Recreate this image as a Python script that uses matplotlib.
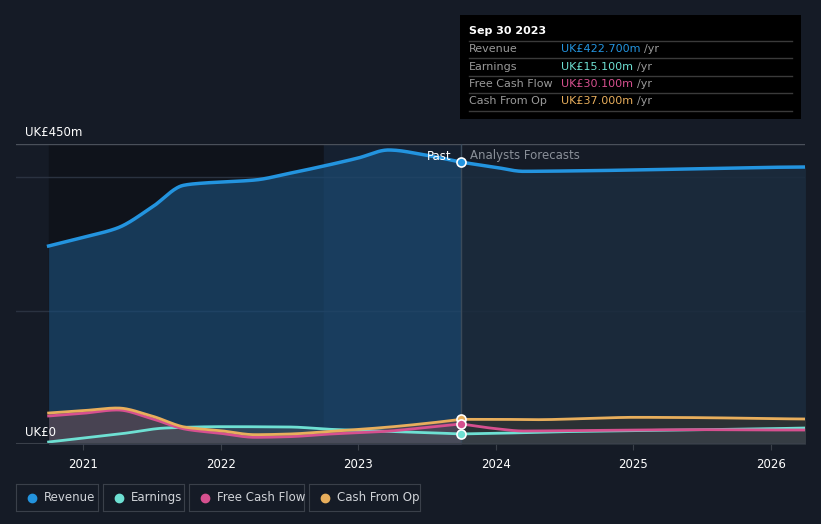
import numpy as np
import matplotlib.pyplot as plt

# data (UK£ m)
rev_x = [2020.75, 2021.0, 2021.25, 2021.5, 2021.73, 2021.85, 2022.25, 2022.5, 2022.75, 2023.0, 2023.22, 2023.5, 2023.75]
rev_y = [297, 310, 324, 355, 388, 391, 396, 406, 417, 429, 441, 433, 422.7]
rev_fx = [2023.75, 2024.0, 2024.2, 2024.5, 2025.0, 2025.5, 2026.0, 2026.25]
rev_fy = [422.7, 415, 409, 409.5, 411, 413, 415, 415.5]

earn_x = [2020.75, 2021.0, 2021.3, 2021.6, 2022.0, 2022.5, 2022.8, 2023.2, 2023.5, 2023.75]
earn_y = [3, 9, 16, 24, 26, 25.5, 22, 19, 17, 15.1]
earn_fx = [2023.75, 2024.0, 2024.2, 2024.5, 2025.0, 2025.5, 2026.0, 2026.25]
earn_fy = [15.1, 16, 17, 18.5, 20, 21.5, 23, 24]

fcf_x = [2020.75, 2021.0, 2021.25, 2021.5, 2021.75, 2022.0, 2022.25, 2022.5, 2022.8, 2023.2, 2023.5, 2023.75]
fcf_y = [42, 46, 51, 38, 22, 16, 10, 11, 15, 19, 25, 30.1]
fcf_fx = [2023.75, 2024.0, 2024.2, 2024.5, 2025.0, 2025.5, 2026.0, 2026.25]
fcf_fy = [30.1, 23, 19.5, 20, 21, 21.5, 21, 21]

cfo_x = [2020.75, 2021.0, 2021.25, 2021.5, 2021.75, 2022.0, 2022.25, 2022.5, 2022.8, 2023.2, 2023.5, 2023.75]
cfo_y = [46.5, 50, 54, 42, 25, 20, 14, 15, 19, 25, 31, 37]
cfo_fx = [2023.75, 2024.0, 2024.3, 2024.7, 2025.0, 2025.5, 2026.0, 2026.25]
cfo_fy = [37, 37, 36.5, 38.5, 40, 39.5, 38, 37.5]

years = [2021, 2022, 2023, 2024, 2025, 2026]

bg = '#151b26'
c_rev = '#2394df'
c_earn = '#6ee0d3'
c_fcf = '#d6508f'
c_cfo = '#e8ae5c'

def smooth(xs, ys):
    # monotone cubic hermite so the curves don't overshoot
    xs = np.asarray(xs, float); ys = np.asarray(ys, float)
    d = np.diff(ys) / np.diff(xs)
    m = np.zeros_like(ys)
    m[0] = d[0]; m[-1] = d[-1]
    for i in range(1, len(ys) - 1):
        if d[i-1] * d[i] <= 0:
            m[i] = 0
        else:
            m[i] = 2 / (1 / d[i-1] + 1 / d[i])
    xo, yo = [], []
    for i in range(len(xs) - 1):
        h = xs[i+1] - xs[i]
        t = np.linspace(0, 1, 30, endpoint=False)
        h00 = 2*t**3 - 3*t**2 + 1; h10 = t**3 - 2*t**2 + t
        h01 = -2*t**3 + 3*t**2; h11 = t**3 - t**2
        xo.extend(xs[i] + t*h)
        yo.extend(h00*ys[i] + h10*h*m[i] + h01*ys[i+1] + h11*h*m[i+1])
    xo.append(xs[-1]); yo.append(ys[-1])
    return np.array(xo), np.array(yo)

fig = plt.figure(figsize=(8.21, 5.24), dpi=100, facecolor=bg)
ax = fig.add_axes([16/821, 80/524, 789/821, 300/524])
ax.set_facecolor(bg)
x0 = 2021 - 67/137.6
x1 = 2021 + 722/137.6
ax.set_xlim(x0, x1)
ax.set_ylim(0, 450)

# background shades
ax.axvspan(2020.75, 2022.75, color='#0f131b', zorder=0)
ax.axvspan(2022.75, 2023.75, color='#152030', zorder=0)

for v in [200, 400]:
    ax.axhline(v, color='#2a3240', lw=1, zorder=1)
ax.axhline(450, color='#4a505a', lw=1, zorder=1)
ax.axhline(0, color='#3a404a', lw=1.5, zorder=6)

rx, ry = smooth(rev_x, rev_y)
fx, fy = smooth(rev_fx, rev_fy)
ax.fill_between(rx, ry, color='#1b4a72', alpha=0.7, zorder=2, lw=0)
ax.fill_between(fx, fy, color='#1b2c3e', alpha=0.85, zorder=2, lw=0)

cx, cy = smooth(cfo_x, cfo_y)
px, py = smooth(fcf_x, fcf_y)
ex, ey = smooth(earn_x, earn_y)
cfx, cfy = smooth(cfo_fx, cfo_fy)
pfx, pfy = smooth(fcf_fx, fcf_fy)
efx, efy = smooth(earn_fx, earn_fy)

ax.fill_between(cx, cy, color='#6a4a50', alpha=0.6, zorder=3, lw=0)
ax.fill_between(ex, ey, color='#4a5560', alpha=0.5, zorder=3, lw=0)
ax.fill_between(cfx, cfy, color='#2e3234', alpha=0.9, zorder=3, lw=0)
ax.fill_between(efx, efy, color='#3e4650', alpha=0.6, zorder=3, lw=0)

ax.plot(rx, ry, color=c_rev, lw=2.5, zorder=5)
ax.plot(fx, fy, color=c_rev, lw=2.5, zorder=5)
ax.plot(ex, ey, color=c_earn, lw=2, zorder=5)
ax.plot(efx, efy, color=c_earn, lw=2, zorder=5)
ax.plot(px, py, color=c_fcf, lw=2, zorder=5)
ax.plot(pfx, pfy, color=c_fcf, lw=2, zorder=5)
ax.plot(cx, cy, color=c_cfo, lw=2, zorder=5)
ax.plot(cfx, cfy, color=c_cfo, lw=2, zorder=5)

ax.axvline(2023.75, color='#3a4a5a', lw=1, zorder=4)
for val, col in [(rev_y[-1], c_rev), (cfo_y[-1], c_cfo), (fcf_y[-1], c_fcf), (earn_y[-1], c_earn)]:
    ax.plot(2023.75, val, 'o', ms=6.5, color=col, mec='white', mew=1.2, zorder=7)

ax.text(2023.68, 432, 'Past', color='white', fontsize=8.5, ha='right', va='center', zorder=8)
ax.text(2023.81, 432, 'Analysts Forecasts', color='#8a9099', fontsize=8.5, ha='left', va='center', zorder=8)

ax.set_yticks([])
ax.set_xticks(years)
ax.set_xticklabels([str(y) for y in years], color='white', fontsize=8.5)
ax.tick_params(axis='x', length=4, color='#3a404a', pad=6)
for s in ax.spines.values():
    s.set_visible(False)

fig.text(25/821, 1 - 132/524, 'UK£450m', color='white', fontsize=8.5, va='center')
fig.text(25/821, 1 - 432/524, 'UK£0', color='white', fontsize=8.5, va='center')

# tooltip
tip = fig.add_axes([460/821, 1 - 119/524, 341/821, 104/524])
tip.set_facecolor('black')
tip.set_xlim(0, 341); tip.set_ylim(104, 0)
tip.set_xticks([]); tip.set_yticks([])
for s in tip.spines.values():
    s.set_visible(False)
tip.text(9, 16, 'Sep 30 2023', color='white', fontsize=8, va='center', fontweight='bold')
rows = [('Revenue', 'UK£422.700m', c_rev), ('Earnings', 'UK£15.100m', c_earn),
        ('Free Cash Flow', 'UK£30.100m', c_fcf), ('Cash From Op', 'UK£37.000m', c_cfo)]
renderer = fig.canvas.get_renderer()
for i, (lab, val, col) in enumerate(rows):
    yy = 34 + i * 17.5
    tip.axhline(yy - 8.5, xmin=9/341, xmax=332/341, color='#3a3a3a', lw=1)
    tip.text(9, yy, lab, color='#9a9a9a', fontsize=8, va='center')
    t = tip.text(101, yy, val, color=col, fontsize=8, va='center')
    w = t.get_window_extent(renderer).width
    tip.text(101 + w + 4, yy, '/yr', color='#9a9a9a', fontsize=8, va='center')
tip.axhline(34 + 3.5 * 17.5 + 0.5, xmin=9/341, xmax=332/341, color='#3a3a3a', lw=1)

# legend boxes
items = [('Revenue', c_rev, 16, 98), ('Earnings', c_earn, 103, 184),
         ('Free Cash Flow', c_fcf, 189, 304), ('Cash From Op', c_cfo, 309, 420)]
for lab, col, xa, xb in items:
    lg = fig.add_axes([xa/821, 1 - 511/524, (xb - xa)/821, 27/524])
    lg.set_facecolor(bg)
    lg.set_xlim(0, xb - xa); lg.set_ylim(0, 27)
    lg.set_xticks([]); lg.set_yticks([])
    for s in lg.spines.values():
        s.set_color('#3a404a')
    lg.plot(16, 13.5, 'o', ms=6, color=col)
    lg.text(28, 13.5, lab, color='#d0d3d8', fontsize=8.5, va='center')

fig.savefig('out.png', dpi=100, facecolor=bg)
